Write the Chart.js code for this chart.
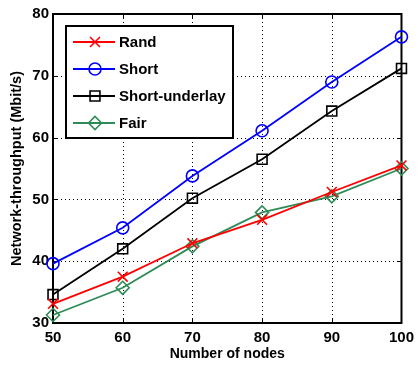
<!DOCTYPE html>
<html>
<head>
<meta charset="utf-8">
<script src="https://cdn.jsdelivr.net/npm/chart.js@4"></script>
<style>
  html, body { margin: 0; padding: 0; background: #fff; }
  #wrap { width: 420px; height: 365px; }
</style>
</head>
<body>
<div id="wrap"><canvas id="c" width="420" height="365"></canvas></div>
<script>
const nodes = [50, 60, 70, 80, 90, 100];
const rand = [33.1, 37.5, 42.9, 46.7, 51.2, 55.5];
const short = [39.6, 45.4, 53.8, 61.1, 69.0, 76.3];
const shortUnderlay = [34.6, 42.0, 50.2, 56.5, 64.3, 71.2];
const fair = [31.3, 35.7, 42.4, 47.9, 50.5, 55.0];
const seriesNames = ['Rand', 'Short', 'Short-underlay', 'Fair'];
const xTitle = 'Number of nodes';
const yTitle = 'Network-throughput (Mbit/s)';

const FONT = "'Liberation Sans', Arial, Helvetica, sans-serif";
const GREEN = '#2e8b57';

function pts(arr) { return nodes.map((x, i) => ({ x: x, y: arr[i] })); }

function ds(label, data, color, style, radius) {
  return {
    label: label, data: pts(data), borderColor: color, backgroundColor: 'rgba(0,0,0,0)',
    borderWidth: 1.8, pointStyle: style, pointRadius: radius, pointHoverRadius: radius,
    pointBorderWidth: 1.6, pointBorderColor: color, pointBackgroundColor: 'rgba(0,0,0,0)',
    tension: 0, clip: false
  };
}

const frame = {
  id: 'frame',
  beforeDatasetsDraw(chart) {
    const { ctx, chartArea: a, scales } = chart;
    ctx.save();
    ctx.strokeStyle = '#000';
    ctx.lineWidth = 1;
    // dotted grid
    ctx.setLineDash([1, 3]);
    scales.x.ticks.forEach(t => {
      const px = Math.round(scales.x.getPixelForValue(t.value)) + 0.5;
      ctx.beginPath();
      ctx.moveTo(px, a.bottom); ctx.lineTo(px, a.top);
      ctx.stroke();
    });
    scales.y.ticks.forEach(t => {
      const py = Math.round(scales.y.getPixelForValue(t.value)) + 0.5;
      ctx.beginPath();
      ctx.moveTo(a.left, py); ctx.lineTo(a.right, py);
      ctx.stroke();
    });
    ctx.setLineDash([]);
    const tl = 4;
    scales.x.ticks.forEach(t => {
      const px = Math.round(scales.x.getPixelForValue(t.value)) + 0.5;
      ctx.beginPath();
      ctx.moveTo(px, a.bottom); ctx.lineTo(px, a.bottom - tl);
      ctx.moveTo(px, a.top); ctx.lineTo(px, a.top + tl);
      ctx.stroke();
    });
    scales.y.ticks.forEach(t => {
      const py = Math.round(scales.y.getPixelForValue(t.value)) + 0.5;
      ctx.beginPath();
      ctx.moveTo(a.left, py); ctx.lineTo(a.left + tl, py);
      ctx.moveTo(a.right, py); ctx.lineTo(a.right - tl, py);
      ctx.stroke();
    });
    ctx.lineWidth = 2;
    ctx.strokeRect(a.left, a.top, a.right - a.left, a.bottom - a.top);
    ctx.restore();
  }
};

const legendBox = {
  id: 'legendBox',
  afterDraw(chart) {
    const { ctx } = chart;
    const x0 = 66, y0 = 26, w = 167, h = 112;
    ctx.save();
    ctx.fillStyle = '#fff';
    ctx.fillRect(x0, y0, w, h);
    ctx.strokeStyle = '#000';
    ctx.lineWidth = 2;
    ctx.strokeRect(x0, y0, w, h);
    chart.data.datasets.forEach((d, i) => {
      const y = 42 + i * 27;
      ctx.strokeStyle = d.borderColor;
      ctx.lineWidth = d.borderWidth;
      ctx.beginPath();
      ctx.moveTo(73, y); ctx.lineTo(115, y);
      ctx.stroke();
      ctx.lineWidth = d.pointBorderWidth;
      ctx.strokeStyle = d.pointBorderColor;
      ctx.fillStyle = 'rgba(0,0,0,0)';
      Chart.helpers.drawPoint(ctx, { pointStyle: d.pointStyle, radius: d.pointRadius, rotation: 0, borderWidth: d.pointBorderWidth }, 95, y);
      ctx.fillStyle = '#000';
      ctx.font = 'bold 15px ' + FONT;
      ctx.textAlign = 'left';
      ctx.textBaseline = 'middle';
      ctx.fillText(d.label, 119, y + 1);
    });
    ctx.restore();
  }
};

new Chart(document.getElementById('c'), {
  type: 'line',
  data: {
    datasets: [
      ds(seriesNames[0], rand, '#ff0000', 'crossRot', 7),
      ds(seriesNames[1], short, '#0000ff', 'circle', 6),
      ds(seriesNames[2], shortUnderlay, '#000000', 'rect', 7),
      ds(seriesNames[3], fair, GREEN, 'rectRot', 6.5)
    ]
  },
  options: {
    responsive: false,
    animation: false,
    events: [],
    layout: { padding: { left: 0, right: 13, top: 14, bottom: 0 } },
    plugins: { legend: { display: false }, tooltip: { enabled: false } },
    scales: {
      x: {
        type: 'linear', min: 50, max: 100,
        ticks: { stepSize: 10, color: '#000', padding: 6, font: { family: FONT, size: 15, weight: 'bold' } },
        grid: { display: false, drawTicks: false },
        border: { display: false },
        title: { display: true, text: xTitle, color: '#000', padding: { top: 0, bottom: 2 }, font: { family: FONT, size: 14, weight: 'bold' } },
        afterFit(s) { s.height = 42; }
      },
      y: {
        type: 'linear', min: 30, max: 80,
        ticks: { stepSize: 10, color: '#000', padding: 4, font: { family: FONT, size: 15, weight: 'bold' } },
        grid: { display: false, drawTicks: false },
        border: { display: false },
        title: { display: true, text: yTitle, color: '#000', padding: { top: 8, bottom: 0 }, font: { family: FONT, size: 14.5, weight: 'bold' } },
        afterFit(s) { s.width = 53; }
      }
    }
  },
  plugins: [frame, legendBox]
});
</script>
</body>
</html>
